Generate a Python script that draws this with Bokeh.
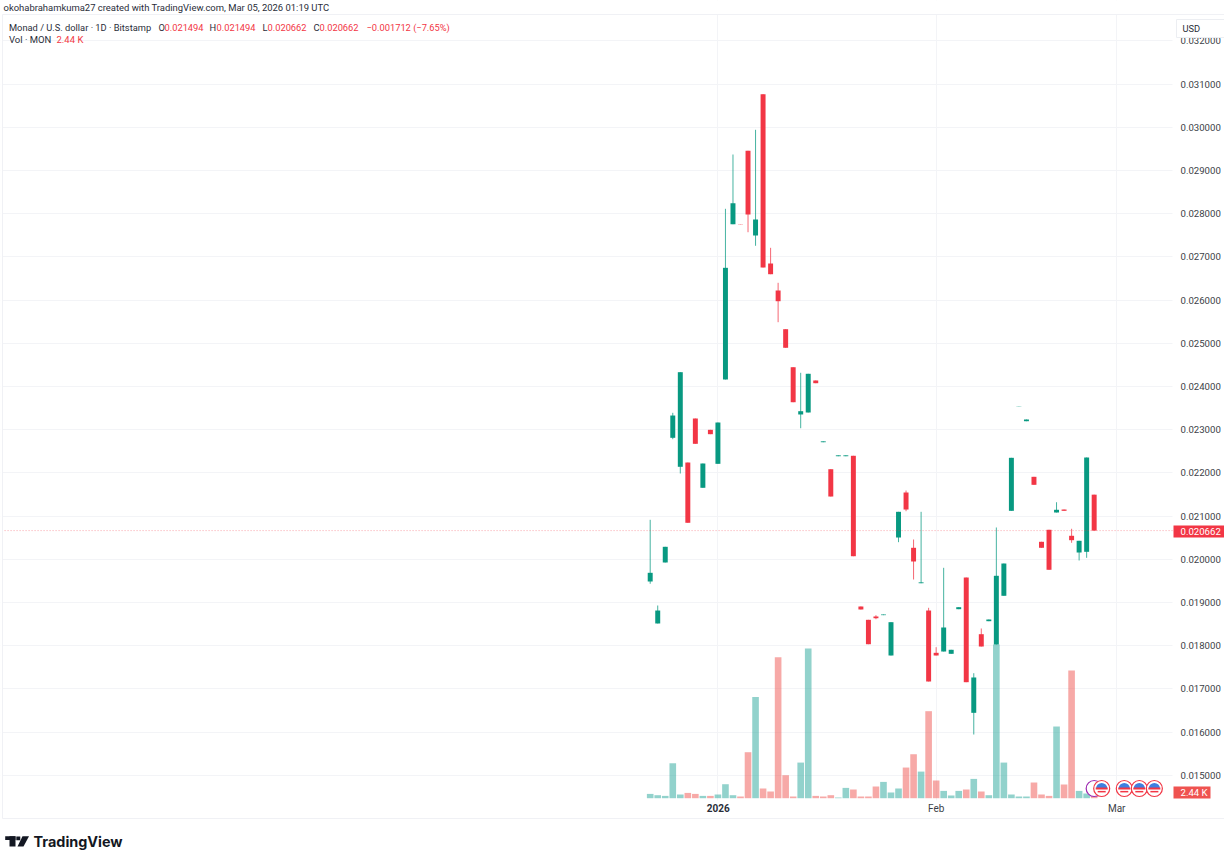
from bokeh.embed import file_html
from bokeh.models import (
    BoxAnnotation,
    ColumnDataSource,
    FixedTicker,
    GlobalInlineStyleSheet,
    Grid,
    Label,
    LinearAxis,
    NumeralTickFormatter,
    PolyAnnotation,
    Range1d,
)
from bokeh.plotting import figure
from bokeh.resources import INLINE

opens = [0.019484, 0.018512, 0.019924, 0.022810, 0.022139, 0.022238, 0.023257, 0.021653, 0.022995, 0.022208,
         0.024160, 0.027755, 0.027757, 0.029454, 0.027493, 0.030764, 0.026845, 0.026220, 0.025324, 0.024444,
         0.023350, 0.023396, 0.024137, 0.022708, 0.022083, 0.022384, 0.022384, 0.022394, 0.018905, 0.018597,
         0.018674, 0.018705, 0.017771, 0.020502, 0.021544, 0.020264, 0.019444, 0.018812, 0.017833, 0.017863,
         0.017810, 0.018843, 0.019576, 0.016444, 0.018264, 0.018565, 0.018025, 0.019153, 0.021120, 0.023540,
         0.023194, 0.021907, 0.020403, 0.020681, 0.021081, 0.021150, 0.020542, 0.020155, 0.020171, 0.021494]
highs = [0.020912, 0.018928, 0.020287, 0.023389, 0.024329, 0.022238, 0.023257, 0.022215, 0.022995, 0.023164,
         0.028111, 0.029368, 0.027757, 0.029454, 0.029940, 0.030764, 0.027208, 0.026398, 0.025324, 0.024444,
         0.024315, 0.024292, 0.024137, 0.022728, 0.022083, 0.022404, 0.022404, 0.022394, 0.018905, 0.018597,
         0.018704, 0.018720, 0.018542, 0.021097, 0.021590, 0.020456, 0.021097, 0.018875, 0.017963, 0.019801,
         0.017903, 0.018889, 0.019576, 0.017361, 0.018396, 0.018604, 0.020734, 0.019900, 0.022347, 0.023545,
         0.023234, 0.021907, 0.020403, 0.020681, 0.021319, 0.021150, 0.020704, 0.020426, 0.022354, 0.021494]
lows = [0.019431, 0.018512, 0.019924, 0.022778, 0.021984, 0.020843, 0.022671, 0.021653, 0.022894, 0.022208,
        0.024160, 0.027755, 0.027752, 0.027569, 0.027255, 0.026752, 0.026597, 0.025486, 0.024894, 0.023634,
        0.023032, 0.023396, 0.024074, 0.022708, 0.021451, 0.022384, 0.022384, 0.020069, 0.018836, 0.018032,
        0.018611, 0.018705, 0.017771, 0.020394, 0.021111, 0.019530, 0.019444, 0.017169, 0.017771, 0.017863,
        0.017810, 0.018843, 0.017153, 0.015942, 0.017979, 0.018565, 0.018025, 0.019153, 0.021120, 0.023540,
        0.023194, 0.021722, 0.020264, 0.019755, 0.021081, 0.021120, 0.020380, 0.019970, 0.020032, 0.020662]
closes = [0.019685, 0.018812, 0.020287, 0.023326, 0.024329, 0.020843, 0.022671, 0.022215, 0.022894, 0.023164,
          0.026745, 0.028241, 0.027752, 0.027979, 0.027863, 0.026752, 0.026597, 0.025972, 0.024894, 0.023634,
          0.023426, 0.024292, 0.024074, 0.022728, 0.021451, 0.022404, 0.022404, 0.020069, 0.018836, 0.018032,
          0.018634, 0.018720, 0.018542, 0.021097, 0.021150, 0.019947, 0.019464, 0.017169, 0.017771, 0.018419,
          0.017903, 0.018889, 0.017153, 0.017262, 0.017979, 0.018604, 0.019616, 0.019900, 0.022347, 0.023545,
          0.023234, 0.021722, 0.020264, 0.019755, 0.021144, 0.021120, 0.020440, 0.020426, 0.022354, 0.020662]
volumes = [1.9, 1.33, 1.02, 15.5, 1.64, 2.35, 1.9, 1.02, 1.02, 1.64,
           6.2, 1.33, 0.75, 20.4, 44.9, 4.3, 2.97, 62.5, 10.2, 0.75,
           15.8, 66.4, 1.02, 0.75, 1.33, 0.3, 4.57, 3.86, 0.75, 0.75,
           5.19, 7.23, 2.53, 4.3, 13.6, 19.5, 11.8, 38.6, 7.85, 3.24,
           1.2, 3.24, 3.86, 8.56, 2.97, 1.33, 68.2, 15.8, 1.64, 0.75,
           0.75, 6.96, 1.64, 1.02, 31.8, 6.08, 56.6, 3.24, 2.08, 2.44]
red_volume_bars = [5, 6, 8, 12, 13, 15, 16, 17, 18, 19, 22, 23, 24, 27, 28, 29, 30,
                   34, 35, 37, 38, 42, 44, 51, 52, 53, 55, 56, 59]
price_ticks = [0.015, 0.016, 0.017, 0.018, 0.019, 0.020, 0.021, 0.022, 0.023, 0.024,
               0.025, 0.026, 0.027, 0.028, 0.029, 0.030, 0.031, 0.032]
time_ticks = {38: "Feb", 62: "Mar"}
year_tick = 9
last_price = 0.020662
event_bars = [60, 63, 65, 67]
earnings_bar = 59

GREEN = "#089981"
RED = "#f23645"
FONT = "Roboto"
GRID = "#f3f4f7"
TEXT = "#2a2e39"

# the frame fills the page, the panes are laid out inside it like TradingView's
chart_left, chart_right = -85.8, 69.41
chart_bottom = 0.014414

bars = list(range(len(opens)))
up = [c >= o for o, c in zip(opens, closes)]
source = ColumnDataSource(
    dict(
        x=bars,
        top=[max(o, c) for o, c in zip(opens, closes)],
        bottom=[min(o, c) for o, c in zip(opens, closes)],
        high=highs,
        low=lows,
        volume=volumes,
        color=[GREEN if u else RED for u in up],
        vol_color=["#ef5350" if i in red_volume_bars else "#26a69a" for i in bars],
    )
)

p = figure(
    frame_width=1224,
    frame_height=850,
    min_border=0,
    x_range=Range1d(-86.34, 76.32),
    y_range=Range1d(0.013257, 0.032933),
    y_axis_location=None,
    x_axis_location=None,
    tools="",
    toolbar_location=None,
    output_backend="svg",
    outline_line_color=None,
    stylesheets=[GlobalInlineStyleSheet(css="html,body{margin:0;padding:0;overflow:hidden}")],
)
p.extra_y_ranges = {"vol": Range1d(-23.2, 353.86)}
p.grid.visible = False

price_axis = LinearAxis(
    fixed_location=chart_right,
    ticker=FixedTicker(ticks=price_ticks),
    formatter=NumeralTickFormatter(format="0.000000"),
    axis_line_color=None,
    major_tick_line_color=None,
    major_tick_out=0,
    minor_tick_line_color=None,
    minor_tick_out=0,
    major_label_standoff=8,
    major_label_text_font=FONT,
    major_label_text_font_size="9.6px",
    major_label_text_color="#3c3f48",
)
p.add_layout(price_axis, "right")

time_axis = LinearAxis(
    fixed_location=chart_bottom,
    ticker=FixedTicker(ticks=[year_tick] + list(time_ticks)),
    major_label_overrides={year_tick: "", **time_ticks},
    axis_line_color=None,
    major_tick_line_color=None,
    major_tick_out=0,
    minor_tick_line_color=None,
    minor_tick_out=0,
    major_label_standoff=2,
    major_label_text_font=FONT,
    major_label_text_font_size="10px",
    major_label_text_color="#3c3f48",
)
p.add_layout(time_axis, "below")

p.add_layout(Grid(dimension=1, ticker=price_axis.ticker, grid_line_color=GRID))
p.add_layout(Grid(dimension=0, ticker=time_axis.ticker, grid_line_color=GRID))

p.vbar(x="x", width=0.88, top="volume", bottom=0, source=source, y_range_name="vol",
       fill_color="vol_color", fill_alpha=0.5, line_color=None)
p.segment(x0="x", x1="x", y0="low", y1="high", source=source, line_color="color", line_width=1, line_alpha=0.75)
p.vbar(x="x", width=0.66, top="top", bottom="bottom", source=source, fill_color="color", line_color=None)

p.segment(x0=[chart_left], x1=[chart_right], y0=[last_price], y1=[last_price], line_color=RED, line_alpha=0.45,
          line_dash="1 2", line_width=1)

# event icons along the bottom of the chart
p.scatter([earnings_bar], [4.3], y_range_name="vol", marker="circle", size=16,
          fill_color="white", line_color="#9c27b0", line_width=1.2)
p.scatter(event_bars, [4.3] * 4, y_range_name="vol", marker="circle", size=16,
          fill_color="white", line_color=RED, line_width=1.2)
p.wedge(event_bars, [4.3] * 4, radius=5.6, radius_units="screen", start_angle=0, end_angle=3.1416,
        y_range_name="vol", fill_color="#3f7fe0", line_color=None)
p.scatter(event_bars, [4.3] * 4, y_range_name="vol", marker="dash", size=12, line_color=RED, line_width=2)
p.scatter(event_bars, [2.9] * 4, y_range_name="vol", marker="dash", size=8, line_color=RED, line_width=1.5)


def text(x, y, s, color=TEXT, size="9.3px", style="normal", font=FONT, align="left"):
    p.add_layout(
        Label(x=x, y=y, x_units="canvas", y_units="canvas", text=s, text_color=color, text_font=font,
              text_font_size=size, text_font_style=style, text_baseline="middle", text_align=align)
    )


def box(left, right, top, bottom, fill=None, line=None, level="annotation"):
    p.add_layout(
        BoxAnnotation(left=left, right=right, top=top, bottom=bottom, left_units="canvas", right_units="canvas",
                      top_units="canvas", bottom_units="canvas", fill_color=fill, fill_alpha=1 if fill else 0,
                      line_color=line, line_alpha=1 if line else 0, line_width=1, level=level)
    )


# grid lines stop at the pane, so mask them outside of it
box(0, 1224, 0, 14, fill="white", level="underlay")
box(0, 1224, 800, 850, fill="white", level="underlay")
box(0, 2, 0, 850, fill="white", level="underlay")
box(1172, 1224, 0, 850, fill="white", level="underlay")

box(2, 1224, 14, 818, line="#f0f1f5")
text(3, 6.5, "okohabrahamkuma27 created with TradingView.com, Mar 05, 2026 01:19 UTC", size="9.45px")

text(8.5, 27, "Monad / U.S. dollar · 1D · Bitstamp")
for x, s in ((158, "O"), (209, "H"), (262, "L"), (313, "C")):
    text(x, 27, s)
for x, s in ((164, "0.021494"), (216, "0.021494"), (267, "0.020662"), (319, "0.020662"),
             (366, "−0.001712 (−7.65%)")):
    text(x, 27, s, color=RED)
text(8.5, 39, "Vol · MON", size="9.5px")
text(56, 39, "2.44 K", color=RED, size="9.5px")

box(1176, 1224, 19, 37, fill="white", line="#eceef2")
text(1182, 27.5, "USD")

text(717.7, 807.5, "2026", style="bold", size="10px", align="center")

box(1173, 1224, 525, 537, fill=RED)
text(1180, 531, "0.020662", color="white", size="9.6px")
box(1173, 1210, 786, 798, fill="#ef5350")
text(1180, 792, "2.44 K", color="white", size="9.6px")

# TradingView wordmark
box(4.7, 15, 835.7, 839.5, fill="#131722")
box(9, 15, 835.7, 846, fill="#131722")
p.add_layout(PolyAnnotation(xs=[22, 28.5, 23, 17], ys=[835.7, 835.7, 846, 846], xs_units="canvas", ys_units="canvas",
                            fill_color="#131722", fill_alpha=1, line_color=None))
box(15.8, 19.8, 835.9, 839.7, fill="#131722")
text(33, 841, "TradingView", color="#131722", size="14.4px", style="bold", font="Inter")

open("out.html", "w").write(file_html(p, INLINE))
